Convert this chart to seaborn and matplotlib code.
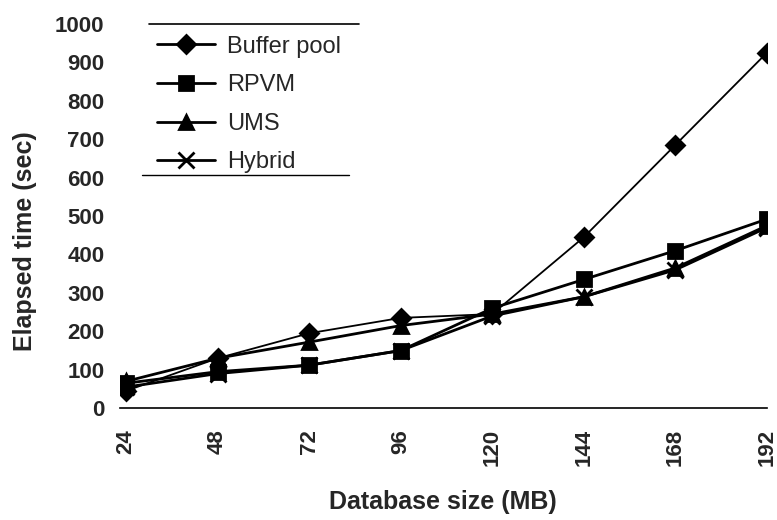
import matplotlib
matplotlib.use("Agg")
import matplotlib.pyplot as plt
import seaborn as sns
import pandas as pd
from matplotlib.lines import Line2D

sizes = ["24", "48", "72", "96", "120", "144", "168", "192"]
buffer_pool = [45, 130, 195, 235, 245, 445, 685, 925]
rpvm = [65, 95, 112, 150, 260, 335, 410, 492]
ums = [70, 130, 172, 215, 245, 290, 365, 475]
hybrid = [55, 90, 112, 150, 240, 290, 360, 470]
series_names = ["Buffer pool", "RPVM", "UMS", "Hybrid"]
y_ticks = [0, 100, 200, 300, 400, 500, 600, 700, 800, 900, 1000]

sns.set_theme(style="white")
plt.rcParams["font.family"] = ["Liberation Sans", "DejaVu Sans"]

fig = plt.figure(figsize=(7.77, 5.2), dpi=100)
ax = fig.add_axes([0.154, 0.215, 0.833, 0.739])

markers = {"Buffer pool": "D", "RPVM": "s", "UMS": "^", "Hybrid": "x"}
msizes = {"Buffer pool": 9, "RPVM": 10.5, "UMS": 10.5, "Hybrid": 11}
lws = {"Buffer pool": 1.3, "RPVM": 2.0, "UMS": 2.0, "Hybrid": 2.0}

for name, vals in zip(series_names, [buffer_pool, rpvm, ums, hybrid]):
    d = pd.DataFrame({"size": sizes, "time": vals})
    sns.lineplot(data=d, x="size", y="time", sort=False, color="black",
                 marker=markers[name], markersize=msizes[name], linewidth=lws[name],
                 markeredgecolor="black", markeredgewidth=2.0, ax=ax)

ax.set_xlim(-0.07, 7)
ax.set_ylim(0, 1000)
ax.set_yticks(y_ticks)
ax.set_yticklabels([str(t) for t in y_ticks], fontsize=16, fontweight="bold")
ax.set_xticks(range(len(sizes)))
ax.set_xticklabels(sizes, rotation=90, fontsize=16, fontweight="bold")
ax.tick_params(axis="y", direction="in", length=5, width=1, color="black", pad=11)
ax.tick_params(axis="x", length=0, pad=15)

for sp in ["top", "right", "left"]:
    ax.spines[sp].set_visible(False)
ax.spines["bottom"].set_color("black")
ax.spines["bottom"].set_linewidth(1.2)

ax.set_xlabel("Database size (MB)", fontsize=18, fontweight="bold", labelpad=17)
ax.set_ylabel("Elapsed time (sec)", fontsize=18, fontweight="bold")
ax.yaxis.set_label_coords(-0.127, 0.435)

handles = [Line2D([], [], color="black", marker=markers[n], markersize=msizes[n],
                  markeredgewidth=2.0, linewidth=2.0) for n in series_names]
leg = ax.legend(handles, series_names, loc="upper left", bbox_to_anchor=(0.04, 1.0),
                frameon=False, fontsize=17, handlelength=2.45, labelspacing=0.7,
                handletextpad=0.5, borderaxespad=0.1)

# legend top/bottom rules
ax.add_line(Line2D([0.045, 0.37], [1.0, 1.0], transform=ax.transAxes, color="black",
                   linewidth=1.2, clip_on=False))
ax.add_line(Line2D([0.035, 0.355], [0.606, 0.606], transform=ax.transAxes, color="black",
                   linewidth=1.0, clip_on=False))

fig.savefig("out.png", dpi=100)
